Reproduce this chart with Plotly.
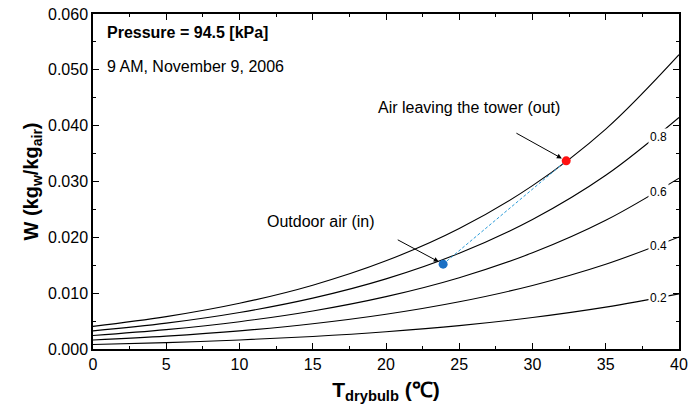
import plotly.graph_objects as go

# Dry-bulb temperature grid (°C)
t_drybulb = [0, 5, 10, 15, 20, 25, 30, 35, 40]

# Humidity ratio W (kg_w/kg_air) along constant relative-humidity lines at 94.5 kPa
w_rh100 = [0.00405, 0.00580, 0.00819, 0.01143, 0.01579, 0.02158, 0.02926, 0.03939, 0.05272]
w_rh80 = [0.00324, 0.00463, 0.00654, 0.00911, 0.01256, 0.01715, 0.02319, 0.03111, 0.04147]
w_rh60 = [0.00242, 0.00347, 0.00489, 0.00681, 0.00938, 0.01277, 0.01723, 0.02305, 0.03060]
w_rh40 = [0.00161, 0.00231, 0.00325, 0.00452, 0.00622, 0.00846, 0.01138, 0.01518, 0.02007]
w_rh20 = [0.00081, 0.00115, 0.00162, 0.00225, 0.00309, 0.00419, 0.00564, 0.00750, 0.00987]

rh_labels = ["0.8", "0.6", "0.4", "0.2"]
rh_label_t = 38.6

# Measured states of the air
state_in = (23.9, 0.0152)    # outdoor air entering the tower
state_out = (32.3, 0.0337)   # air leaving the tower

# Arrow tails (°C, kg_w/kg_air)
tail_out = (28.8, 0.0388)
tail_in = (20.7, 0.0197)

fig = go.Figure()

curves = [w_rh100, w_rh80, w_rh60, w_rh40, w_rh20]
for w in curves:
    fig.add_trace(go.Scatter(x=t_drybulb, y=w, mode="lines",
                             line=dict(color="black", width=1.1, shape="spline"),
                             hoverinfo="skip"))

# Process line from inlet to outlet
fig.add_trace(go.Scatter(x=[state_in[0], state_out[0]], y=[state_in[1], state_out[1]],
                         mode="lines", line=dict(color="#2a9bd8", width=1, dash="3px,2px")))
fig.add_trace(go.Scatter(x=[state_in[0]], y=[state_in[1]], mode="markers",
                         marker=dict(color="#1a6fc4", size=9)))
fig.add_trace(go.Scatter(x=[state_out[0]], y=[state_out[1]], mode="markers",
                         marker=dict(color="#ff1010", size=9)))

font = "Liberation Sans, Arial, sans-serif"

annotations = []
# RH labels sitting on the curves (white background breaks the line)
for lab, w in zip(rh_labels, curves[1:]):
    y = w[7] + (w[8] - w[7]) * (rh_label_t - 35) / 5 * 0.93
    annotations.append(dict(x=rh_label_t, y=y, text=lab, showarrow=False,
                            font=dict(size=12, color="black", family=font),
                            bgcolor="white", borderpad=1))

annotations += [
    dict(xref="paper", yref="paper", x=0.02, y=0.945, xanchor="left", yanchor="middle",
         text="<b>Pressure = 94.5 [kPa]</b>", showarrow=False,
         font=dict(size=16, color="black", family=font)),
    dict(xref="paper", yref="paper", x=0.02, y=0.843, xanchor="left", yanchor="middle",
         text="9 AM, November 9, 2006", showarrow=False,
         font=dict(size=16, color="black", family=font)),
    dict(x=state_out[0], y=state_out[1], ax=tail_out[0], ay=tail_out[1], axref="x", ayref="y",
         text="", showarrow=True, arrowhead=2, arrowsize=1, arrowwidth=1,
         arrowcolor="black", standoff=5),
    dict(x=state_in[0], y=state_in[1], ax=tail_in[0], ay=tail_in[1], axref="x", ayref="y",
         text="", showarrow=True, arrowhead=2, arrowsize=1, arrowwidth=1,
         arrowcolor="black", standoff=5),
    dict(x=25.67, y=0.0432, text="Air leaving the tower (out)", showarrow=False,
         xanchor="center", yanchor="middle", font=dict(size=16, color="black", family=font)),
    dict(x=11.74, y=0.0229, text="Outdoor air (in)", showarrow=False,
         xanchor="left", yanchor="middle", font=dict(size=16, color="black", family=font)),
]

fig.update_layout(
    width=689, height=408,
    margin=dict(l=93, r=10, t=14, b=59),
    plot_bgcolor="white", paper_bgcolor="white",
    showlegend=False,
    annotations=annotations,
    font=dict(family=font, color="black"),
)

fig.update_xaxes(
    range=[0, 40], dtick=5, tick0=0, automargin=False,
    showgrid=False, zeroline=False,
    showline=True, linecolor="black", linewidth=1.5, mirror="ticks",
    ticks="inside", ticklen=6, tickcolor="black",
    minor=dict(ticks="inside", ticklen=3, dtick=2.5, tickcolor="black", showgrid=False),
    tickfont=dict(size=16, family=font),
    title=dict(text="<b>T<sub>drybulb</sub> (℃)</b>", font=dict(size=21, family=font), standoff=10),
)
fig.update_yaxes(
    range=[0, 0.06], dtick=0.01, tick0=0, tickformat=".3f", automargin=False,
    showgrid=False, zeroline=False,
    showline=True, linecolor="black", linewidth=1.5, mirror="ticks",
    ticks="inside", ticklen=6, tickcolor="black",
    minor=dict(ticks="inside", ticklen=3, dtick=0.005, tickcolor="black", showgrid=False),
    tickfont=dict(size=16, family=font),
    title=dict(text="<b>W (kg<sub>w</sub>/kg<sub>air</sub>)</b>", font=dict(size=20, family=font), standoff=4),
)

fig.write_html("out.html")
